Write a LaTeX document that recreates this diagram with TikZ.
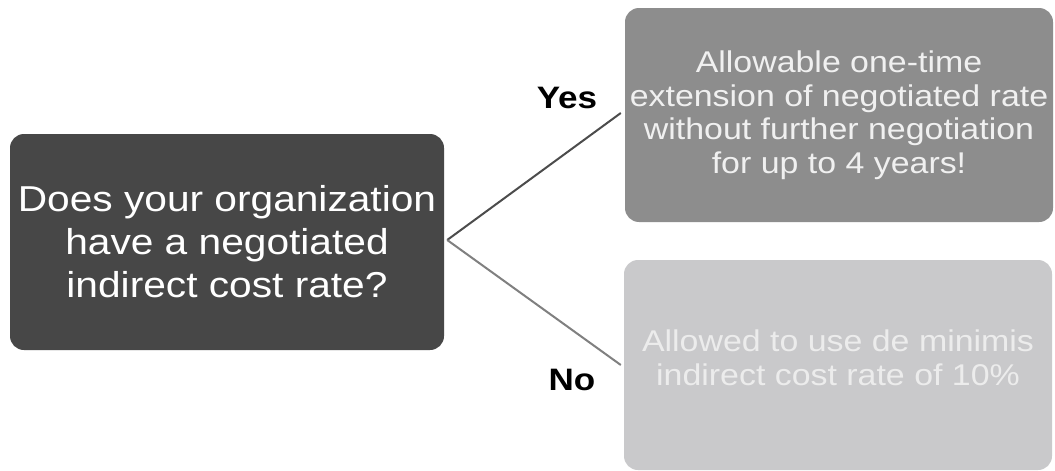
\documentclass[tikz,border=0pt]{standalone}
\usepackage{fontspec}
\setmainfont{Liberation Sans}[FakeStretch=1.13]
\begin{document}
\begin{tikzpicture}[x=1pt,y=-1pt,
  box/.style={rounded corners=14pt, inner sep=0pt, align=center},
  question/.style={box, fill=qfill, text=white, minimum width=434pt, minimum height=216pt,
    font=\fontsize{36}{43}\selectfont},
  answer/.style={box, minimum width=428pt, font=\fontsize{30}{33.5}\selectfont},
  branch/.style={line width=2pt},
  tag/.style={font=\fontsize{31}{36}\selectfont\bfseries, text=black}]
\definecolor{qfill}{HTML}{474747}
\definecolor{yesfill}{HTML}{8D8D8D}
\definecolor{nofill}{HTML}{C9C9CB}
\definecolor{notext}{HTML}{ECECEC}
\useasboundingbox[fill=white] (0,0) rectangle (1055,471);

% decision box
\node[question] (q) at (227,242) {Does your organization\\have a negotiated\\indirect cost rate?};

% outcome boxes
\node[answer, fill=yesfill, text=white!94!black, minimum height=214pt] (yes) at (839,115)
  {Allowable one-time\\extension of negotiated rate\\without further negotiation\\for up to 4 years!};
\node[answer, fill=nofill, minimum height=210pt] (no) at (838,365) {};
\node[font=\fontsize{30}{33.5}\selectfont, text=notext, align=center] (notxt) at (838,358)
  {Allowed to use de minimis\\indirect cost rate of 10\%};

% branches
\coordinate (hub) at ([xshift=3pt,yshift=2pt]q.east);
\draw[branch, draw=black!70] (hub) -- ([xshift=-4pt,yshift=2pt]yes.west);
\draw[branch, draw=black!50] (hub) -- ([xshift=-3pt]no.west);

% branch labels
\node[tag] (ylab) at (567,98) {Yes};
\node[tag] (nlab) at (572,380) {No};
\end{tikzpicture}
\end{document}
